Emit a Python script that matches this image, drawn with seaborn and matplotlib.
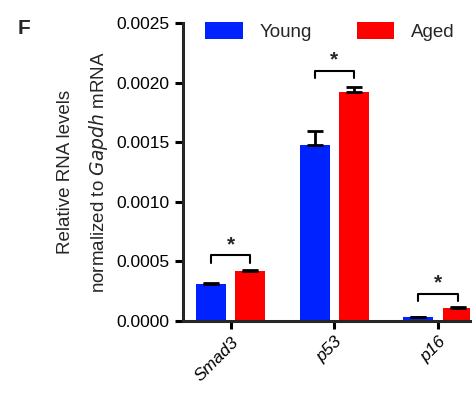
import matplotlib
matplotlib.use("Agg")
import matplotlib.pyplot as plt
import seaborn as sns
import pandas as pd
import numpy as np

genes = ["Smad3", "p53", "p16"]
groups = ["Young", "Aged"]
young_vals = [0.00031, 0.00148, 0.00003]
aged_vals = [0.00042, 0.00192, 0.00011]
young_err = [0.000012, 0.00011, 0.000004]
aged_err = [0.000006, 0.00004, 0.000008]
sig_heights = [0.00055, 0.0021, 0.00023]
sig_labels = ["*", "*", "*"]
yticks = [0.0, 0.0005, 0.0010, 0.0015, 0.0020, 0.0025]
ytick_labels = ["0.0000", "0.0005", "0.0010", "0.0015", "0.0020", "0.0025"]

sns.set_style("ticks")
plt.rcParams["font.family"] = ["Liberation Sans", "DejaVu Sans"]

df = pd.DataFrame({
    "gene": genes * 2,
    "group": ["Young"] * 3 + ["Aged"] * 3,
    "value": young_vals + aged_vals,
})

fig = plt.figure(figsize=(4.73, 4.0), dpi=100)
ax = fig.add_axes([0.387, 0.1975, 0.607, 0.745])

sns.barplot(data=df, x="gene", y="value", hue="group", order=genes,
            hue_order=groups, palette={"Young": "#0022ff", "Aged": "#ff0000"},
            width=0.76, gap=0.24, errorbar=None, ax=ax, saturation=1,
            linewidth=0)

errs = {"Young": young_err, "Aged": aged_err}
vals = {"Young": young_vals, "Aged": aged_vals}
centers = {}
for gi, g in enumerate(groups):
    cont = ax.containers[gi]
    xs = [p.get_x() + p.get_width() / 2 for p in cont.patches]
    centers[g] = xs
    ax.errorbar(xs, vals[g], yerr=[np.zeros(3), errs[g]], fmt="none",
                ecolor="black", elinewidth=2, capsize=6, capthick=2, zorder=3)

for i in range(3):
    x1 = centers["Young"][i]
    x2 = centers["Aged"][i]
    h = sig_heights[i]
    d = 0.00006
    ax.plot([x1, x1, x2, x2], [h - d, h, h, h - d], color="black", lw=1.5,
            clip_on=False)
    ax.text((x1 + x2) / 2, h + 0.00001, sig_labels[i], ha="center",
            va="bottom", fontsize=15, fontweight="bold")

ax.set_xlim(-0.46, 2.31)
ax.set_ylim(0, 0.0025)
ax.set_yticks(yticks)
ax.set_yticklabels(ytick_labels, fontsize=12.5)
ax.set_xticks(range(3))
ax.set_xticklabels(genes, rotation=45, ha="right", rotation_mode="anchor",
                   fontsize=12.5, style="italic")
ax.set_xlabel("")
ax.set_ylabel("Relative RNA levels\nnormalized to $\\it{Gapdh}$ mRNA",
              fontsize=13.5, labelpad=5, linespacing=1.75)
for s in ["left", "bottom"]:
    ax.spines[s].set_linewidth(2.2)
sns.despine(ax=ax)
ax.tick_params(axis="both", width=2.2, length=6, colors="black")

ax.legend(loc="upper left", bbox_to_anchor=(0.077, 1.005), ncol=2,
          frameon=False, fontsize=13.5, handlelength=2.0, handleheight=1.05,
          columnspacing=2.4, handletextpad=0.9, borderpad=0, borderaxespad=0)

fig.text(0.038, 0.93, "F", fontsize=15, fontweight="bold", va="center")

fig.savefig("out.png", dpi=100)
